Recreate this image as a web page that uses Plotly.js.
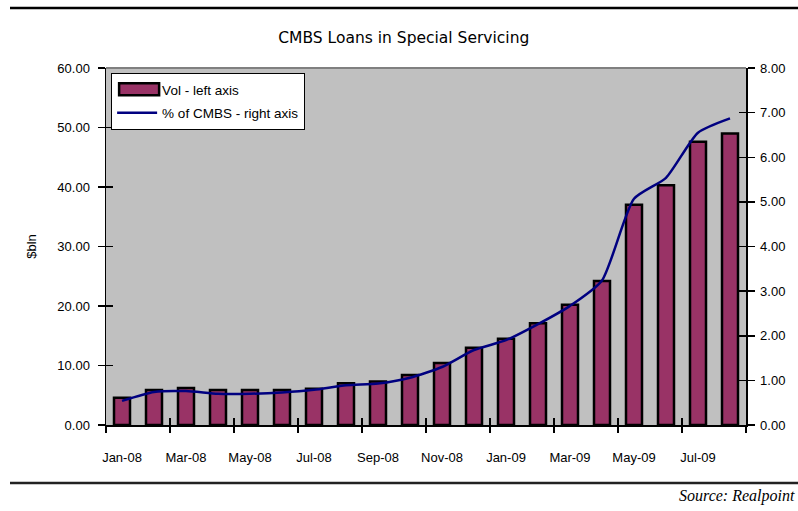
<!DOCTYPE html>
<html>
<head>
<meta charset="utf-8">
<script src="https://cdn.plot.ly/plotly-3.0.1.min.js"></script>
<style>
  html, body { margin: 0; padding: 0; background: #ffffff; }
  #chart { width: 798px; height: 511px; }
</style>
</head>
<body>
<div id="chart"></div>
<script>
// Monthly CMBS loans in special servicing
const months = ['Jan-08','Feb-08','Mar-08','Apr-08','May-08','Jun-08','Jul-08','Aug-08','Sep-08','Oct-08',
                'Nov-08','Dec-08','Jan-09','Feb-09','Mar-09','Apr-09','May-09','Jun-09','Jul-09','Aug-09'];
// Volume in special servicing, $bln (left axis)
const volume = [4.6, 5.9, 6.2, 5.9, 5.9, 5.9, 6.1, 7.0, 7.3, 8.4,
                10.4, 13.0, 14.5, 17.1, 20.2, 24.2, 37.0, 40.3, 47.6, 49.0];
// Share of all CMBS, % (right axis)
const pctOfCmbs = [0.54, 0.74, 0.76, 0.70, 0.70, 0.73, 0.79, 0.89, 0.93, 1.06,
                   1.30, 1.68, 1.90, 2.26, 2.67, 3.24, 5.07, 5.54, 6.55, 6.87];
const leftTicks = [0, 10, 20, 30, 40, 50, 60];
const rightTicks = [0, 1, 2, 3, 4, 5, 6, 7, 8];
const seriesNames = ['Vol - left axis', '% of CMBS - right axis'];

// every other month gets a label; tick marks sit on every other category boundary
const labelMonths = months.filter((m, i) => i % 2 === 0);
const boundaries = [];
for (let b = -0.5; b <= months.length - 0.5; b += 2) boundaries.push(b);

const tickFont = { family: 'Liberation Sans, Arial, sans-serif', size: 13, color: '#000' };
const xRange = [-0.5, months.length - 0.5];
const leftRange = [0, leftTicks[leftTicks.length - 1]];
const rightRange = [0, rightTicks[rightTicks.length - 1]];

const traces = [
  {
    type: 'bar', x: months, y: volume, name: seriesNames[0], legendgroup: 'vol',
    width: 0.5,
    marker: { color: '#993366', line: { color: '#000000', width: 2.5 } },
    xaxis: 'x', yaxis: 'y', hoverinfo: 'x+y'
  },
  {
    type: 'scatter', mode: 'lines', x: months, y: pctOfCmbs, name: seriesNames[1], legendgroup: 'pct',
    line: { color: '#000080', width: 2.5, shape: 'spline', smoothing: 0.6 },
    xaxis: 'x', yaxis: 'y2', hoverinfo: 'x+y'
  },
  // empty helpers so the crossing tick-mark axes get drawn
  { type: 'scatter', x: [], y: [], xaxis: 'x2', yaxis: 'y', showlegend: false, hoverinfo: 'skip' },
  { type: 'scatter', x: [], y: [], xaxis: 'x3', yaxis: 'y', showlegend: false, hoverinfo: 'skip' },
  { type: 'scatter', x: [], y: [], xaxis: 'x', yaxis: 'y3', showlegend: false, hoverinfo: 'skip' },
  { type: 'scatter', x: [], y: [], xaxis: 'x', yaxis: 'y4', showlegend: false, hoverinfo: 'skip' }
];

const markAxis = (extra) => Object.assign({
  showticklabels: false, showgrid: false, zeroline: false, showline: false,
  ticklen: 7, tickwidth: 1.5, tickcolor: '#000', fixedrange: true
}, extra);

const layout = {
  width: 798, height: 511,
  margin: { l: 106, r: 52, t: 68, b: 86 },
  paper_bgcolor: '#ffffff',
  plot_bgcolor: '#c0c0c0',
  showlegend: true,
  title: {
    text: 'CMBS Loans in Special Servicing',
    font: { family: 'DejaVu Sans, sans-serif', size: 15.5, color: '#000' },
    xref: 'container', x: 0.506, yref: 'container', y: 0.926, yanchor: 'middle'
  },
  legend: {
    x: 0.008, y: 0.986, xanchor: 'left', yanchor: 'top',
    bgcolor: '#ffffff', bordercolor: '#000000', borderwidth: 1,
    font: { family: 'Liberation Sans, Arial, sans-serif', size: 13.5, color: '#000' },
    itemwidth: 40, tracegroupgap: 3
  },
  xaxis: {
    type: 'category', categoryarray: months, range: xRange,
    tickvals: labelMonths, ticktext: labelMonths, ticks: '',
    showline: true, linecolor: '#000', linewidth: 1.5,
    showgrid: false, zeroline: false, tickfont: tickFont,
    ticklabelstandoff: 20, fixedrange: true
  },
  xaxis2: markAxis({ overlaying: 'x', anchor: 'y', side: 'bottom', type: 'linear', range: xRange,
                      tickvals: boundaries, ticks: 'outside' }),
  xaxis3: markAxis({ overlaying: 'x', anchor: 'y', side: 'bottom', type: 'linear', range: xRange,
                      tickvals: boundaries, ticks: 'inside' }),
  yaxis: {
    range: leftRange, tickvals: leftTicks, tickformat: '.2f',
    ticks: 'outside', ticklen: 7, tickwidth: 1.5, tickcolor: '#000',
    showline: true, linecolor: '#000', linewidth: 1.5,
    showgrid: false, zeroline: false, tickfont: tickFont,
    ticklabelstandoff: 5,
    title: { text: '$bln', font: { family: 'Liberation Sans, Arial, sans-serif', size: 13, color: '#000' }, standoff: 18 },
    fixedrange: true
  },
  yaxis2: {
    overlaying: 'y', side: 'right', anchor: 'x',
    range: rightRange, tickvals: rightTicks, tickformat: '.2f',
    ticks: 'outside', ticklen: 7, tickwidth: 1.5, tickcolor: '#000',
    showline: true, linecolor: '#000', linewidth: 1.5,
    showgrid: false, zeroline: false, tickfont: tickFont,
    ticklabelstandoff: 3, fixedrange: true
  },
  yaxis3: markAxis({ overlaying: 'y', side: 'left', anchor: 'x', range: leftRange,
                      tickvals: leftTicks, ticks: 'inside' }),
  yaxis4: markAxis({ overlaying: 'y', side: 'right', anchor: 'x', range: rightRange,
                      tickvals: rightTicks, ticks: 'inside' }),
  shapes: [
    // page rules above and below the exhibit
    { type: 'line', xref: 'paper', yref: 'paper', x0: -0.15, x1: 1.09, y0: 1.168, y1: 1.168,
      line: { color: '#000', width: 2.5 } },
    { type: 'line', xref: 'paper', yref: 'paper', x0: -0.15, x1: 1.09, y0: -0.1625, y1: -0.1625,
      line: { color: '#222', width: 2.5 } },
    // grey upper edge of the plot area
    { type: 'line', xref: 'paper', yref: 'paper', x0: 0, x1: 1, y0: 1, y1: 1,
      line: { color: '#808080', width: 2 } }
  ],
  annotations: [
    { text: 'Source: Realpoint', xref: 'paper', yref: 'paper', x: 1.0795, y: -0.2, xanchor: 'right', yanchor: 'middle',
      showarrow: false, font: { family: 'Liberation Serif, serif', size: 16, color: '#000', style: 'italic' } }
  ]
};

Plotly.newPlot('chart', traces, layout, { displayModeBar: false, staticPlot: true }).then((gd) => {
  // widen the bar swatch in the legend into a long key, like the line key beside it
  gd.querySelectorAll('.legend .traces').forEach((entry) => {
    const pts = entry.querySelectorAll('.legendpoints path');
    const isBar = entry.querySelector('.legendtext').textContent === seriesNames[0];
    if (isBar) {
      pts.forEach((p) => {
        p.setAttribute('d', 'M7,-6h40v12h-40z');
        p.removeAttribute('transform');
      });
    }
  });
});
</script>
</body>
</html>
